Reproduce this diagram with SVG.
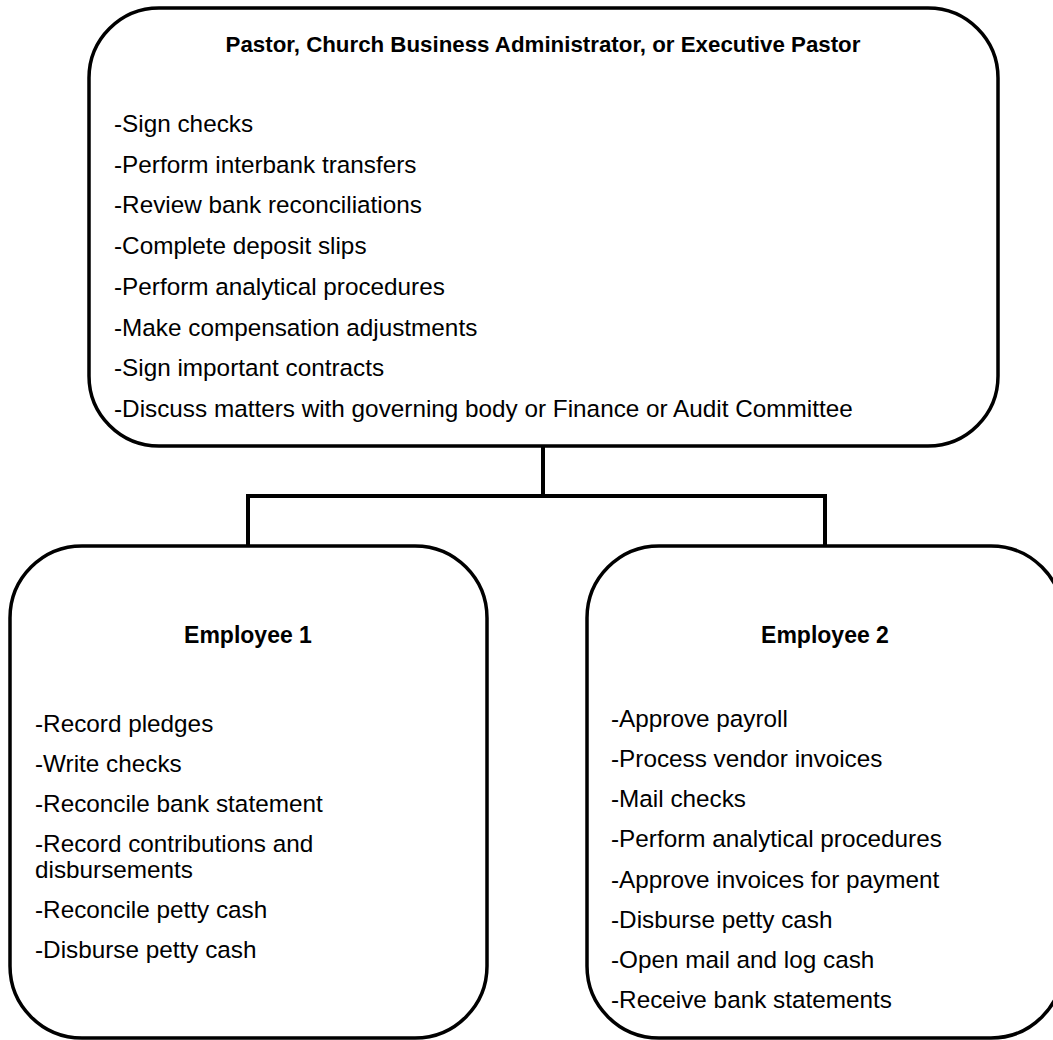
<svg xmlns="http://www.w3.org/2000/svg" width="1053" height="1040" viewBox="0 0 1053 1040">
<style>
.box{fill:#fff;stroke:#000;stroke-width:3.5}
.conn{fill:none;stroke:#000;stroke-width:4}
text{font-family:"Liberation Sans",Arial,sans-serif;font-size:24.3px;fill:#000}
.title{font-weight:bold;text-anchor:middle;font-size:22.3px}
.sub{font-size:23px}
</style>
<rect width="1053" height="1040" fill="#fff"/>
<g id="connectors">
<path class="conn" d="M543 446 V496 M246 496 H827 M248 496 V546 M825 496 V546"/>
</g>
<g id="node-top">
<rect class="box" x="89" y="8" width="909" height="438" rx="70" ry="70"/>
<text class="title" x="543" y="52">Pastor, Church Business Administrator, or Executive Pastor</text>
<text x="114" y="132">-Sign checks</text>
<text x="114" y="172.7">-Perform interbank transfers</text>
<text x="114" y="213.4">-Review bank reconciliations</text>
<text x="114" y="254.1">-Complete deposit slips</text>
<text x="114" y="294.9">-Perform analytical procedures</text>
<text x="114" y="335.6">-Make compensation adjustments</text>
<text x="114" y="376.3">-Sign important contracts</text>
<text x="114" y="417">-Discuss matters with governing body or Finance or Audit Committee</text>
</g>
<g id="node-employee1">
<rect class="box" x="10" y="546" width="477" height="492" rx="72" ry="72"/>
<text class="title sub" x="248" y="643">Employee 1</text>
<text x="35" y="732">-Record pledges</text>
<text x="35" y="772">-Write checks</text>
<text x="35" y="812">-Reconcile bank statement</text>
<text x="35" y="852">-Record contributions and</text>
<text x="35" y="878">disbursements</text>
<text x="35" y="918">-Reconcile petty cash</text>
<text x="35" y="958">-Disburse petty cash</text>
</g>
<g id="node-employee2">
<rect class="box" x="587" y="546" width="476" height="492" rx="72" ry="72"/>
<text class="title sub" x="825" y="643">Employee 2</text>
<text x="611" y="726.5">-Approve payroll</text>
<text x="611" y="767">-Process vendor invoices</text>
<text x="611" y="807">-Mail checks</text>
<text x="611" y="847">-Perform analytical procedures</text>
<text x="611" y="887.5">-Approve invoices for payment</text>
<text x="611" y="928">-Disburse petty cash</text>
<text x="611" y="968">-Open mail and log cash</text>
<text x="611" y="1008">-Receive bank statements</text>
</g>
</svg>
